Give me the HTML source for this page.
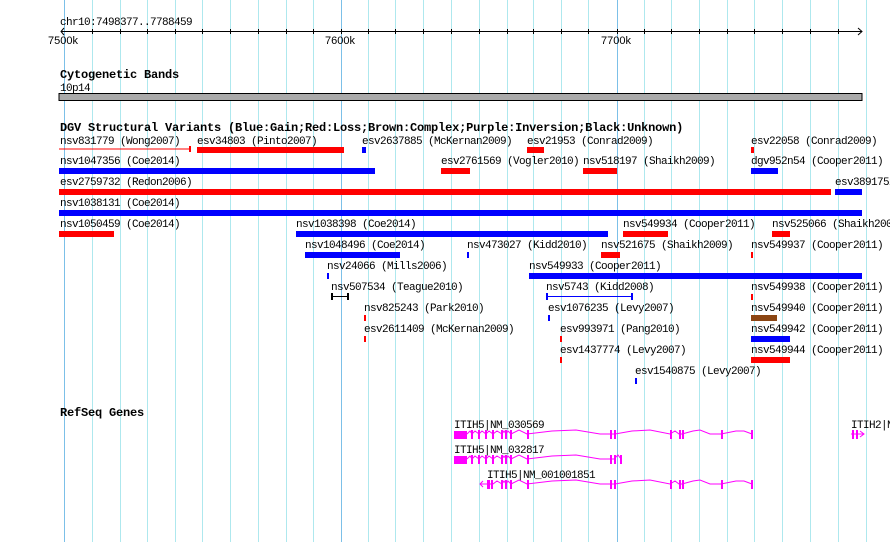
<!DOCTYPE html>
<html><head><meta charset="utf-8"><style>
html,body{margin:0;padding:0;background:#fff;}
svg{display:block;}
text{font-family:"Liberation Mono","DejaVu Sans Mono",monospace;font-size:11px;letter-spacing:-0.6px;fill:#000;}
.b{font-weight:bold;font-size:12px;letter-spacing:-0.2px;}
.s{font-family:"Liberation Sans",sans-serif;font-size:11px;letter-spacing:0;}
</style></head><body>
<svg width="890" height="542" viewBox="0 0 890 542" xmlns="http://www.w3.org/2000/svg">
<g id="grid" stroke="#aee8ee" stroke-width="1">
<line x1="92.5" y1="0" x2="92.5" y2="542"/><line x1="120.5" y1="0" x2="120.5" y2="542"/><line x1="147.5" y1="0" x2="147.5" y2="542"/><line x1="175.5" y1="0" x2="175.5" y2="542"/><line x1="202.5" y1="0" x2="202.5" y2="542"/><line x1="230.5" y1="0" x2="230.5" y2="542"/><line x1="258.5" y1="0" x2="258.5" y2="542"/><line x1="286.5" y1="0" x2="286.5" y2="542"/><line x1="313.5" y1="0" x2="313.5" y2="542"/><line x1="368.5" y1="0" x2="368.5" y2="542"/><line x1="395.5" y1="0" x2="395.5" y2="542"/><line x1="423.5" y1="0" x2="423.5" y2="542"/><line x1="451.5" y1="0" x2="451.5" y2="542"/><line x1="479.5" y1="0" x2="479.5" y2="542"/><line x1="507.5" y1="0" x2="507.5" y2="542"/><line x1="533.5" y1="0" x2="533.5" y2="542"/><line x1="561.5" y1="0" x2="561.5" y2="542"/><line x1="588.5" y1="0" x2="588.5" y2="542"/><line x1="644.5" y1="0" x2="644.5" y2="542"/><line x1="671.5" y1="0" x2="671.5" y2="542"/><line x1="699.5" y1="0" x2="699.5" y2="542"/><line x1="727.5" y1="0" x2="727.5" y2="542"/><line x1="754.5" y1="0" x2="754.5" y2="542"/><line x1="782.5" y1="0" x2="782.5" y2="542"/><line x1="810.5" y1="0" x2="810.5" y2="542"/><line x1="838.5" y1="0" x2="838.5" y2="542"/><line x1="866.5" y1="0" x2="866.5" y2="542"/>
</g>
<g stroke="#7cc0e8"><line x1="64.5" y1="0" x2="64.5" y2="542"/><line x1="341.5" y1="0" x2="341.5" y2="542"/><line x1="617.5" y1="0" x2="617.5" y2="542"/></g>

<text x="60" y="25">chr10:7498377..7788459</text>
<g stroke="#000"><line x1="61" y1="31.5" x2="862" y2="31.5"/>
<path d="M64,28 L61,31.5 L64,35 M858,28 L862,31.5 L858,35" fill="none"/>
<path d="M92.5,29v5M120.5,29v5M147.5,29v5M175.5,29v5M202.5,29v5M230.5,29v5M258.5,29v5M286.5,29v5M313.5,29v5M341.5,29v5M368.5,29v5M395.5,29v5M423.5,29v5M451.5,29v5M479.5,29v5M507.5,29v5M533.5,29v5M561.5,29v5M588.5,29v5M617.5,29v5M644.5,29v5M671.5,29v5M699.5,29v5M727.5,29v5M754.5,29v5M782.5,29v5M810.5,29v5M838.5,29v5"/></g>
<text class="s" x="48" y="44">7500k</text><text class="s" x="325" y="44">7600k</text><text class="s" x="601" y="44">7700k</text>

<text class="b" x="60" y="78">Cytogenetic Bands</text>
<text x="60" y="91">10p14</text>
<rect x="59" y="93.5" width="803" height="7" fill="#aaa" stroke="#000"/>

<text class="b" x="60" y="131">DGV Structural Variants (Blue:Gain;Red:Loss;Brown:Complex;Purple:Inversion;Black:Unknown)</text>

<g>
<text x="60" y="144">nsv831779 (Wong2007)</text><text x="197" y="144">esv34803 (Pinto2007)</text><text x="362" y="144">esv2637885 (McKernan2009)</text><text x="527" y="144">esv21953 (Conrad2009)</text><text x="751" y="144">esv22058 (Conrad2009)</text>
<text x="60" y="164">nsv1047356 (Coe2014)</text><text x="441" y="164">esv2761569 (Vogler2010)</text><text x="583" y="164">nsv518197 (Shaikh2009)</text><text x="751" y="164">dgv952n54 (Cooper2011)</text>
<text x="60" y="185">esv2759732 (Redon2006)</text><text x="835" y="185">esv3891752</text>
<text x="60" y="206">nsv1038131 (Coe2014)</text>
<text x="60" y="227">nsv1050459 (Coe2014)</text><text x="296" y="227">nsv1038398 (Coe2014)</text><text x="623" y="227">nsv549934 (Cooper2011)</text><text x="772" y="227">nsv525066 (Shaikh2009)</text>
<text x="305" y="248">nsv1048496 (Coe2014)</text><text x="467" y="248">nsv473027 (Kidd2010)</text><text x="601" y="248">nsv521675 (Shaikh2009)</text><text x="751" y="248">nsv549937 (Cooper2011)</text>
<text x="327" y="269">nsv24066 (Mills2006)</text><text x="529" y="269">nsv549933 (Cooper2011)</text>
<text x="331" y="290">nsv507534 (Teague2010)</text><text x="546" y="290">nsv5743 (Kidd2008)</text><text x="751" y="290">nsv549938 (Cooper2011)</text>
<text x="364" y="311">nsv825243 (Park2010)</text><text x="548" y="311">esv1076235 (Levy2007)</text><text x="751" y="311">nsv549940 (Cooper2011)</text>
<text x="364" y="332">esv2611409 (McKernan2009)</text><text x="560" y="332">esv993971 (Pang2010)</text><text x="751" y="332">nsv549942 (Cooper2011)</text>
<text x="560" y="353">esv1437774 (Levy2007)</text><text x="751" y="353">nsv549944 (Cooper2011)</text>
<text x="635" y="374">esv1540875 (Levy2007)</text>
</g>

<g fill="#f00">
<rect x="59" y="148.5" width="131" height="1"/><rect x="189" y="146" width="2" height="6"/>
<rect x="197" y="147" width="147" height="6"/><rect x="527" y="147" width="17" height="6"/><rect x="751" y="147" width="3" height="6"/>
<rect x="441" y="168" width="29" height="6"/><rect x="583" y="168" width="34" height="6"/>
<rect x="59" y="189" width="772" height="6"/>
<rect x="59" y="231" width="55" height="6"/><rect x="623" y="231" width="45" height="6"/><rect x="772" y="231" width="18" height="6"/>
<rect x="601" y="252" width="19" height="6"/><rect x="751" y="252" width="2" height="6"/>
<rect x="751" y="294" width="2" height="6"/>
<rect x="364" y="315" width="2" height="6"/><rect x="364" y="336" width="2" height="6"/><rect x="560" y="336" width="2" height="6"/><rect x="560" y="357" width="2" height="6"/>
<rect x="751" y="357" width="39" height="6"/>
</g>
<g fill="#00f">
<rect x="362" y="147" width="4" height="6"/>
<rect x="59" y="168" width="316" height="6"/><rect x="751" y="168" width="27" height="6"/>
<rect x="835" y="189" width="27" height="6"/>
<rect x="59" y="210" width="803" height="6"/>
<rect x="296" y="231" width="312" height="6"/>
<rect x="305" y="252" width="95" height="6"/><rect x="467" y="252" width="2" height="6"/>
<rect x="327" y="273" width="2" height="6"/><rect x="529" y="273" width="333" height="6"/>
<rect x="546" y="296" width="86" height="1"/><rect x="546" y="293" width="2" height="7"/><rect x="631" y="293" width="2" height="7"/>
<rect x="548" y="315" width="2" height="6"/>
<rect x="751" y="336" width="39" height="6"/>
<rect x="635" y="378" width="2" height="6"/>
</g>
<rect x="751" y="315" width="26" height="6" fill="#8b4513"/>
<g fill="#000"><rect x="331" y="296" width="17" height="1"/><rect x="331" y="293" width="2" height="7"/><rect x="347" y="293" width="2" height="7"/></g>

<text class="b" x="60" y="416">RefSeq Genes</text>
<text x="454" y="428">ITIH5|NM_030569</text>
<text x="454" y="453">ITIH5|NM_032817</text>
<text x="487" y="478">ITIH5|NM_001001851</text>
<text x="851" y="428">ITIH2|N</text>

<g stroke="#f0f" fill="none" stroke-width="1">
<polyline points="467,434 470,431 472,434 475,431 479,434 482,431 486,434 489,431 493,434 497,431 502,434 504,431 506,434 508,431 511,434 519,430 527,434 552,431 576,430 600,434 610,434 615,434 632,431 650,430 670,434 675,431 679,434 682,434 693,431 700,430 710,434 721,434 736,431 744,431 752,434"/>
<polyline points="467,459 470,456 472,459 475,456 479,459 482,456 486,459 489,456 493,459 497,456 502,459 504,456 506,459 508,456 511,459 519,455 527,459 552,456 576,455 600,459 610,459 614,459 618,455 621,459"/>
<polyline points="480,484 486,484 493,484 497,481 502,484 504,481 506,484 508,481 511,484 519,480 527,484 552,481 576,480 600,484 610,484 615,484 632,481 650,480 670,484 675,481 679,484 682,484 693,481 700,480 710,484 721,484 736,481 744,481 752,484"/>
<path d="M483,481 L480,484 L483,487"/>
<path d="M851,434 H864 M860,431 L864,434 L860,437"/>
</g>
<g fill="#f0f">
<rect x="454" y="431" width="13" height="8"/><rect x="454" y="456" width="13" height="8"/>
<rect x="471" y="430" width="2" height="9"/><rect x="478" y="430" width="2" height="9"/><rect x="485" y="430" width="2" height="9"/><rect x="492" y="430" width="2" height="9"/><rect x="501" y="430" width="2" height="9"/><rect x="505" y="430" width="2" height="9"/><rect x="510" y="430" width="2" height="9"/><rect x="527" y="430" width="2" height="9"/><rect x="610" y="430" width="2" height="9"/><rect x="614" y="430" width="2" height="9"/><rect x="670" y="430" width="2" height="9"/><rect x="679" y="430" width="2" height="9"/><rect x="682" y="430" width="2" height="9"/><rect x="721" y="430" width="2" height="9"/><rect x="751" y="430" width="2" height="9"/>
<rect x="471" y="455" width="2" height="9"/><rect x="478" y="455" width="2" height="9"/><rect x="485" y="455" width="2" height="9"/><rect x="492" y="455" width="2" height="9"/><rect x="501" y="455" width="2" height="9"/><rect x="505" y="455" width="2" height="9"/><rect x="510" y="455" width="2" height="9"/><rect x="527" y="455" width="2" height="9"/><rect x="610" y="455" width="2" height="9"/><rect x="614" y="455" width="2" height="9"/><rect x="620" y="455" width="2" height="9"/>
<rect x="487" y="480" width="3" height="9"/><rect x="491" y="480" width="2" height="9"/><rect x="501" y="480" width="2" height="9"/><rect x="505" y="480" width="2" height="9"/><rect x="510" y="480" width="2" height="9"/><rect x="527" y="480" width="2" height="9"/><rect x="610" y="480" width="2" height="9"/><rect x="614" y="480" width="2" height="9"/><rect x="670" y="480" width="2" height="9"/><rect x="679" y="480" width="2" height="9"/><rect x="682" y="480" width="2" height="9"/><rect x="721" y="480" width="2" height="9"/><rect x="751" y="480" width="2" height="9"/>
<rect x="852" y="430" width="2" height="9"/><rect x="856" y="430" width="2" height="9"/>
</g>
</svg>
</body></html>
